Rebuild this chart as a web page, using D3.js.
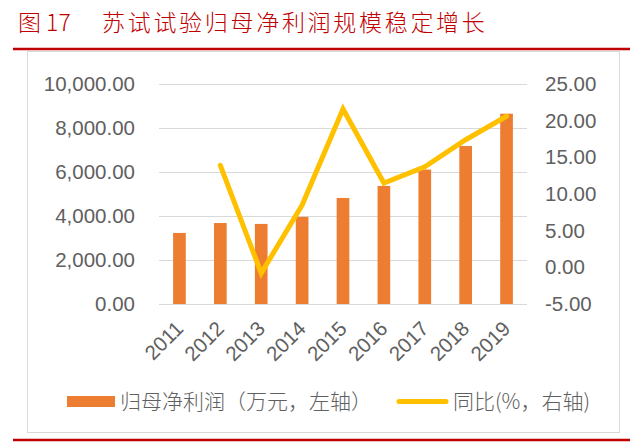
<!DOCTYPE html>
<html>
<head>
<meta charset="utf-8">
<script src="https://cdn.jsdelivr.net/npm/d3@7"></script>
<style>
  body { margin: 0; background: #fff; }
  svg { display: block; }
  .tick line { display: none; }
  .domain { display: none; }
</style>
</head>
<body>
<svg id="chart"></svg>
<script>
// chart data
let years = ["2011", "2012", "2013", "2014", "2015", "2016", "2017", "2018", "2019"];
let profit = [3230, 3680, 3640, 3960, 4820, 5365, 6110, 7180, 8650]; // 归母净利润 (万元)
let yoy = [null, 13.9, -0.8, 8.5, 21.6, 11.5, 13.7, 17.4, 20.6];     // 同比 (%)
let leftTicks = [0, 2000, 4000, 6000, 8000, 10000];
let rightTicks = [-5, 0, 5, 10, 15, 20, 25];

let width = 640;
let height = 444;

let plotLeft = 159;
let plotRight = 527;
let plotTop = 84;
let plotBottom = 304;

let numFont = "'Liberation Sans', Arial, sans-serif";
let cjkFont = "'Noto Sans CJK SC', sans-serif";
let grey = "#606060";

let svg = d3.select("#chart")
            .attr("width", width)
            .attr("height", height);

let locale = d3.formatLocale({decimal: ".", thousands: ",", grouping: [3], currency: ["", ""], minus: "-"});

let xScale = d3.scaleBand()
               .domain(years)
               .range([plotLeft, plotRight])
               .paddingInner(0.69)
               .paddingOuter(0.345);

let yLeft = d3.scaleLinear()
              .domain([0, 10000])
              .range([plotBottom, plotTop]);

let yRight = d3.scaleLinear()
               .domain([-5, 25])
               .range([plotBottom, plotTop]);

// title
svg.append("text")
   .attr("x", 18)
   .attr("y", 31)
   .attr("fill", "#C00000")
   .style("font-family", cjkFont)
   .style("font-size", "23px")
   .style("font-weight", 300)
   .text("图 17");

svg.append("text")
   .attr("x", 102)
   .attr("y", 31)
   .attr("fill", "#C00000")
   .style("font-family", cjkFont)
   .style("font-size", "23px")
   .style("font-weight", 300)
   .style("letter-spacing", "2.7px")
   .text("苏试试验归母净利润规模稳定增长");

// red rules top and bottom
svg.append("line")
   .attr("x1", 13).attr("x2", 630)
   .attr("y1", 49).attr("y2", 49)
   .attr("stroke", "#C00000")
   .attr("stroke-width", 2.5);

svg.append("line")
   .attr("x1", 13).attr("x2", 630)
   .attr("y1", 440).attr("y2", 440)
   .attr("stroke", "#C00000")
   .attr("stroke-width", 2.5);

// chart frame
svg.append("rect")
   .attr("x", 27.5)
   .attr("y", 51.5)
   .attr("width", 592)
   .attr("height", 381)
   .attr("fill", "none")
   .attr("stroke", "#D9D9D9")
   .attr("stroke-width", 1);

// gridlines
svg.append("g")
   .selectAll("line")
   .data(leftTicks)
   .enter()
   .append("line")
   .attr("x1", plotLeft)
   .attr("x2", plotRight)
   .attr("y1", (d) => yLeft(d) + 0.5)
   .attr("y2", (d) => yLeft(d) + 0.5)
   .attr("stroke", "#D9D9D9")
   .attr("stroke-width", 1.2);

// axes
let leftAxis = d3.axisLeft(yLeft)
                 .tickValues(leftTicks)
                 .tickSize(0)
                 .tickPadding(24)
                 .tickFormat(locale.format(",.2f"));

svg.append("g")
   .attr("transform", "translate(" + plotLeft + ",0)")
   .call(leftAxis)
   .selectAll("text")
   .attr("fill", grey)
   .style("font-family", numFont)
   .style("font-size", "20.5px");

let rightAxis = d3.axisRight(yRight)
                  .tickValues(rightTicks)
                  .tickSize(0)
                  .tickPadding(18)
                  .tickFormat(locale.format(".2f"));

svg.append("g")
   .attr("transform", "translate(" + plotRight + ",0)")
   .call(rightAxis)
   .selectAll("text")
   .attr("fill", grey)
   .style("font-family", numFont)
   .style("font-size", "20.5px");

let bottomAxis = d3.axisBottom(xScale).tickSize(0);

svg.append("g")
   .attr("transform", "translate(0," + plotBottom + ")")
   .call(bottomAxis)
   .selectAll("text")
   .attr("x", 0)
   .attr("y", 0)
   .attr("dy", 0)
   .attr("text-anchor", "end")
   .attr("transform", "translate(5,26) rotate(-45)")
   .attr("fill", grey)
   .style("font-family", numFont)
   .style("font-size", "20.5px");

// bars
svg.append("g")
   .selectAll("rect")
   .data(profit)
   .enter()
   .append("rect")
   .attr("x", (d, i) => xScale(years[i]))
   .attr("y", (d) => yLeft(d))
   .attr("width", xScale.bandwidth())
   .attr("height", (d) => yLeft(0) - yLeft(d))
   .attr("fill", "#ED7D31");

// yoy line
let line = d3.line()
             .defined((d) => d != null)
             .x((d, i) => xScale(years[i]) + xScale.bandwidth() / 2)
             .y((d) => yRight(d));

svg.append("path")
   .datum(yoy)
   .attr("d", line)
   .attr("fill", "none")
   .attr("stroke", "#FFC000")
   .attr("stroke-width", 5)
   .attr("stroke-linecap", "round");

// legend
let legend = svg.append("g");

legend.append("rect")
      .attr("x", 67)
      .attr("y", 396)
      .attr("width", 48)
      .attr("height", 11)
      .attr("fill", "#ED7D31");

legend.append("text")
      .attr("x", 120)
      .attr("y", 409)
      .attr("fill", grey)
      .style("font-family", cjkFont)
      .style("font-size", "21px")
      .style("font-weight", 300)
      .text("归母净利润（万元，左轴）");

legend.append("line")
      .attr("x1", 399)
      .attr("x2", 446)
      .attr("y1", 401.5)
      .attr("y2", 401.5)
      .attr("stroke", "#FFC000")
      .attr("stroke-width", 5)
      .attr("stroke-linecap", "round");

legend.append("text")
      .attr("x", 453)
      .attr("y", 409)
      .attr("fill", grey)
      .style("font-family", cjkFont)
      .style("font-size", "21px")
      .style("font-weight", 300)
      .text("同比(%，右轴)");
</script>
</body>
</html>
